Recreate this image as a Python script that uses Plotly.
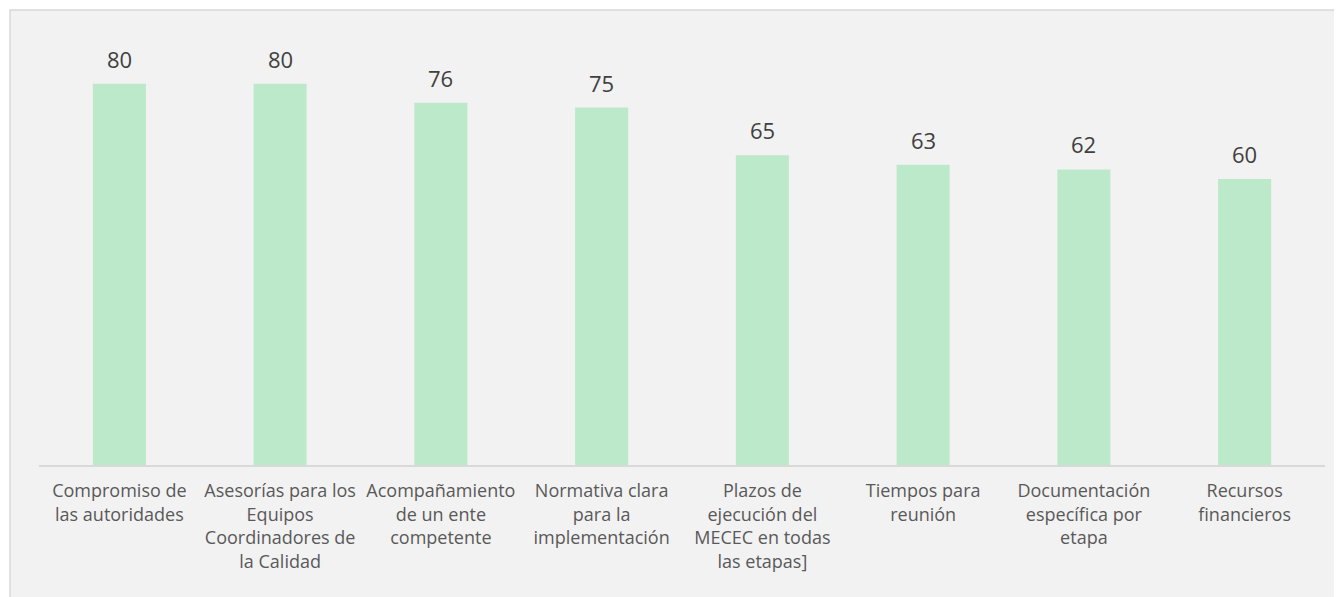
import plotly.graph_objects as go

categories = [
    "Compromiso de<br>las autoridades",
    "Asesorías para los<br>Equipos<br>Coordinadores de<br>la Calidad",
    "Acompañamiento<br>de un ente<br>competente",
    "Normativa clara<br>para la<br>implementación",
    "Plazos de<br>ejecución del<br>MECEC en todas<br>las etapas]",
    "Tiempos para<br>reunión",
    "Documentación<br>específica por<br>etapa",
    "Recursos<br>financieros",
]
values = [80, 80, 76, 75, 65, 63, 62, 60]

# page has an 8px body margin, so the figure is offset by 8px
OFF = 8
W, H = 1342 - OFF, 597 - OFF
ml, mr, mt, mb = 39 - OFF, 17, 36 - OFF, 132
pw = W - ml - mr
ph = H - mt - mb

fig = go.Figure()
fig.add_trace(go.Bar(
    x=categories, y=values,
    marker=dict(color="#bbe9c9", line=dict(width=0)),
    hoverinfo="skip",
))

for c, v in zip(categories, values):
    fig.add_annotation(
        x=c, y=v, text=str(v), showarrow=False,
        yanchor="bottom", yshift=8,
        font=dict(family="Open Sans", size=22, color="#404040"),
    )

# gray panel with border
px0, py0 = 10 - OFF, 10 - OFF
fig.add_shape(
    type="rect", xref="paper", yref="paper", layer="below",
    x0=(px0 - ml) / pw, x1=(W + 5 - ml) / pw,
    y0=(H - mb - (H + 5)) / ph, y1=(H - mb - py0) / ph,
    fillcolor="#f2f2f2", line=dict(color="#d9d9d9", width=1.5),
)

fig.update_layout(
    width=W, height=H,
    margin=dict(l=ml, r=mr, t=mt, b=mb),
    paper_bgcolor="white",
    plot_bgcolor="rgba(0,0,0,0)",
    bargap=0.67,
    showlegend=False,
    font=dict(family="Open Sans", size=18, color="#595959"),
    xaxis=dict(
        showline=True, linecolor="#d9d9d9", linewidth=1.5,
        ticks="", tickangle=0, showgrid=False,
        ticklabelstandoff=9,
        tickfont=dict(family="Open Sans", size=18, color="#595959"),
    ),
    yaxis=dict(
        range=[0, 90], visible=False, showgrid=False, zeroline=False,
    ),
)

fig.write_html("out.html")
